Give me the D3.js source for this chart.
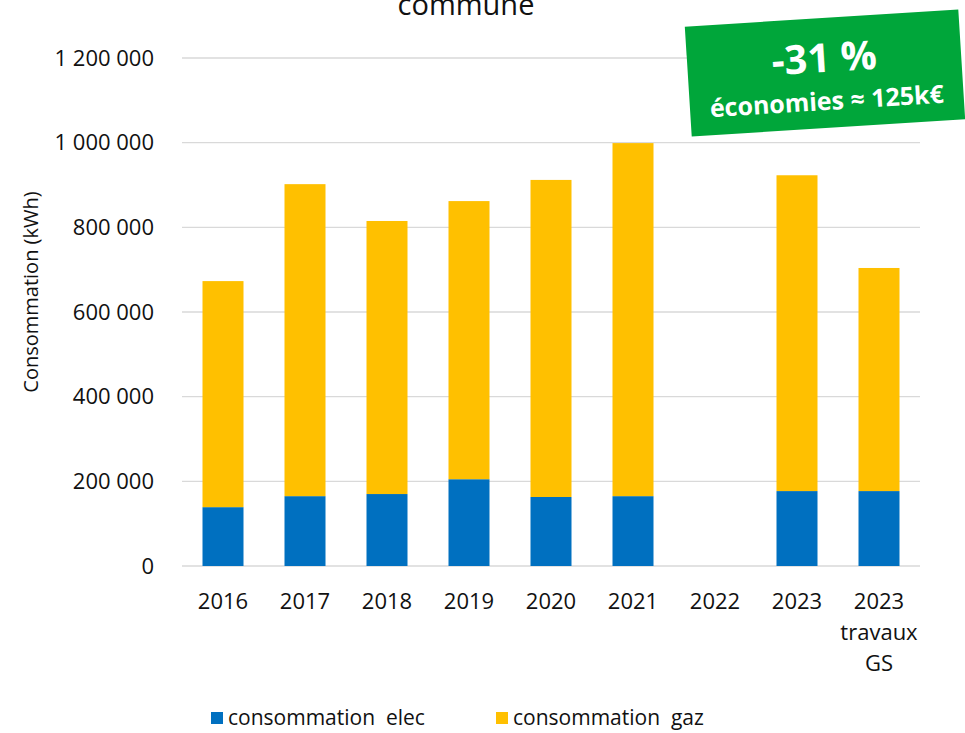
<!DOCTYPE html>
<html>
<head>
<meta charset="utf-8">
<script src="https://cdn.jsdelivr.net/npm/d3@7"></script>
<style>
  body { margin: 0; background: #fff; }
  text { font-family: "Open Sans", sans-serif; }
</style>
</head>
<body>
<div class="chart"></div>
<script>
var categories = ['2016', '2017', '2018', '2019', '2020', '2021', '2022', '2023', '2023\ntravaux\nGS'];
var elec = [139000, 165000, 170000, 205000, 163000, 165000, 0, 177000, 177000];
var gaz = [534000, 737000, 645000, 657000, 749000, 834000, 0, 746000, 527000];
var yTicks = [0, 200000, 400000, 600000, 800000, 1000000, 1200000];
var seriesNames = ['consommation  elec', 'consommation  gaz'];

var w = 965, h = 733;
var plotLeft = 182, plotRight = 920, plotTop = 58, plotBottom = 566;

var svg = d3.select('.chart').append('svg')
  .attr('width', w).attr('height', h);

var x = d3.scaleBand().domain(categories).range([plotLeft, plotRight]).paddingInner(0.5).paddingOuter(0.25);
var y = d3.scaleLinear().domain([0, 1200000]).range([plotBottom, plotTop]);
var fmt = function(v) { return d3.format(',')(v).replace(/,/g, ' '); };

// grid
svg.append('g').selectAll('line').data(yTicks).enter().append('line')
  .attr('x1', plotLeft).attr('x2', plotRight)
  .attr('y1', function(d) { return y(d); }).attr('y2', function(d) { return y(d); })
  .attr('stroke', '#d9d9d9').attr('stroke-width', 1.3);

var yAxis = svg.append('g').attr('transform', 'translate(' + (plotLeft - 25) + ',0)')
  .call(d3.axisLeft(y).tickValues(yTicks).tickFormat(fmt).tickSize(0));
yAxis.select('.domain').remove();
yAxis.selectAll('text').attr('font-size', 22).attr('fill', '#111').attr('font-family', '"Open Sans", sans-serif');

// stacked bars
var rows = categories.map(function(c, i) { return {cat: c, elec: elec[i], gaz: gaz[i]}; });
var stack = d3.stack().keys(['elec', 'gaz'])(rows);
var colors = ['#0070C0', '#FFC000'];

svg.append('g').selectAll('g').data(stack).enter().append('g')
  .attr('fill', function(d, i) { return colors[i]; })
  .selectAll('rect').data(function(d) { return d; }).enter().append('rect')
  .attr('x', function(d) { return x(d.data.cat); })
  .attr('width', x.bandwidth())
  .attr('y', function(d) { return y(d[1]); })
  .attr('height', function(d) { return y(d[0]) - y(d[1]); });

// x labels
var xl = svg.append('g').selectAll('text').data(categories).enter().append('text')
  .attr('x', function(d) { return x(d) + x.bandwidth() / 2; })
  .attr('y', 609)
  .attr('text-anchor', 'middle')
  .attr('font-size', 22).attr('fill', '#111');
xl.each(function(d) {
  var t = d3.select(this);
  d.split('\n').forEach(function(s, i) {
    t.append('tspan').attr('x', t.attr('x')).attr('dy', i ? 31 : 0).text(s);
  });
});

// y title
svg.append('text')
  .attr('transform', 'translate(38,292) rotate(-90)')
  .attr('text-anchor', 'middle')
  .attr('font-size', 20).attr('fill', '#111')
  .text('Consommation (kWh)');

// chart title (top line cut off)
svg.append('text')
  .attr('x', 466).attr('y', 15)
  .attr('text-anchor', 'middle')
  .attr('font-size', 29).attr('fill', '#111')
  .text('commune');

// legend
var lg = svg.append('g').selectAll('g').data(seriesNames).enter().append('g')
  .attr('transform', function(d, i) { return 'translate(' + (i ? 496 : 211) + ',712)'; });
lg.append('rect').attr('width', 12).attr('height', 12)
  .attr('fill', function(d, i) { return colors[i]; });
lg.append('text').attr('x', 17).attr('y', 13)
  .attr('font-size', 21).attr('fill', '#111')
  .style('white-space', 'pre')
  .text(function(d) { return d; });

// green callout
var badge = svg.append('g').attr('transform', 'translate(825,73) rotate(-3.6)');
badge.append('rect').attr('x', -137).attr('y', -55).attr('width', 274).attr('height', 110)
  .attr('fill', '#00A63A');
badge.append('text').attr('x', 0).attr('y', -1).attr('text-anchor', 'middle')
  .attr('font-size', 40).attr('font-weight', 'bold').attr('fill', '#fff')
  .text('-31 %');
badge.append('text').attr('x', 0).attr('y', 37).attr('text-anchor', 'middle')
  .attr('font-size', 25).attr('font-weight', 'bold').attr('fill', '#fff')
  .text('économies ≈ 125k€');
</script>
</body>
</html>
